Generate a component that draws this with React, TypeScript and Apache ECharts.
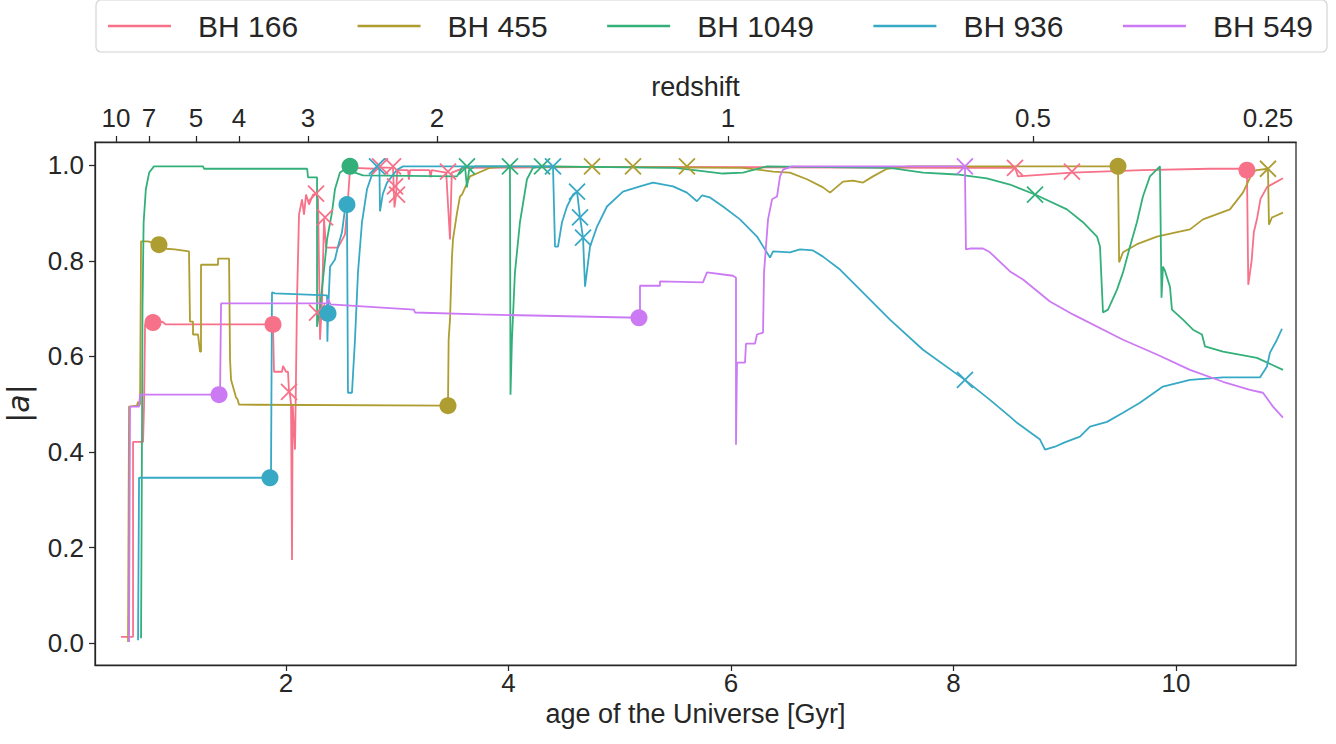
import React, { useEffect, useRef } from "react";
import * as echarts from "echarts";

const FONT = "'Liberation Sans', Arial, sans-serif";
const INK = "#262626";

const seriesNames = ["BH 166", "BH 455", "BH 1049", "BH 936", "BH 549"];
const seriesColors = ["#f77189", "#ae9d31", "#33b07a", "#38a9c5", "#cc7af4"];

// bottom axis ticks (age, Gyr)
const ageTicks = [2, 4, 6, 8, 10];
// top axis: redshift labels and the ages at which they sit
const redshiftLabels = ["10", "7", "5", "4", "3", "2", "1", "0.5", "0.25"];
const redshiftAges = [0.472, 0.769, 1.191, 1.578, 2.198, 3.357, 5.973, 8.715, 10.827];
const aTicks = [0, 0.2, 0.4, 0.6, 0.8, 1.0];

// [age (Gyr), |a|]
const bh166: number[][] = [
  [0.517, 0.013], [0.625, 0.013], [0.625, 0.421], [0.715, 0.421], [0.724, 0.5], [0.733, 0.667],
  [0.804, 0.671], [0.885, 0.673], [0.92, 0.667], [1.011, 0.667], [1.883, 0.667], [1.892, 0.568],
  [1.964, 0.568], [1.973, 0.58], [2.0, 0.568], [2.018, 0.568], [2.027, 0.526], [2.036, 0.52],
  [2.045, 0.5], [2.054, 0.174], [2.06, 0.5], [2.081, 0.405], [2.099, 0.719], [2.117, 0.897],
  [2.144, 0.929], [2.162, 0.897], [2.18, 0.939], [2.207, 0.918], [2.243, 0.939], [2.27, 0.941],
  [2.288, 0.929], [2.306, 0.635], [2.324, 0.719], [2.342, 0.887], [2.36, 0.828], [2.467, 0.828],
  [2.53, 0.855], [2.557, 0.929], [2.575, 0.991], [2.6, 0.995], [2.8, 0.993], [2.845, 0.996],
  [2.962, 0.995], [2.975, 0.912], [2.99, 0.94], [3.0, 0.99], [3.097, 0.99], [3.105, 0.97],
  [3.115, 0.99], [3.29, 0.99], [3.3, 0.975], [3.31, 0.99], [3.44, 0.985], [3.474, 0.845],
  [3.49, 0.985], [3.6, 0.995], [5.0, 0.997], [8.0, 0.995], [8.553, 0.995], [8.58, 0.977],
  [9.065, 0.985], [9.7, 0.99], [10.3, 0.993], [10.638, 0.993], [10.65, 0.75], [10.68, 0.8],
  [10.7, 0.86], [10.73, 0.89], [10.76, 0.93], [10.82, 0.955], [10.962, 0.973],
];
const bh455: number[][] = [
  [0.58, 0.002], [0.589, 0.495], [0.66, 0.497], [0.67, 0.505], [0.679, 0.497], [0.688, 0.5],
  [0.697, 0.841], [0.76, 0.841], [0.858, 0.834], [0.894, 0.826], [1.0, 0.824], [1.128, 0.82],
  [1.137, 0.673], [1.164, 0.673], [1.164, 0.646], [1.209, 0.646], [1.227, 0.61], [1.236, 0.61],
  [1.236, 0.792], [1.389, 0.792], [1.389, 0.805], [1.488, 0.805], [1.497, 0.593], [1.506, 0.551],
  [1.551, 0.514], [1.565, 0.51], [1.578, 0.499], [3.456, 0.497], [3.462, 0.635], [3.474, 0.677],
  [3.492, 0.809], [3.501, 0.845], [3.537, 0.9], [3.564, 0.935], [3.582, 0.939], [3.654, 0.977],
  [3.834, 0.995], [4.0, 0.998], [6.108, 0.995], [6.378, 0.987], [6.53, 0.985], [6.683, 0.971],
  [6.827, 0.954], [6.89, 0.943], [7.007, 0.966], [7.097, 0.968], [7.187, 0.964], [7.277, 0.977],
  [7.402, 0.993], [7.6, 0.998], [9.479, 0.998], [9.489, 0.797], [9.524, 0.818], [9.65, 0.835],
  [9.829, 0.851], [10.0, 0.86], [10.126, 0.866], [10.243, 0.887], [10.485, 0.908], [10.602, 0.943],
  [10.692, 0.987], [10.728, 0.99], [10.827, 0.993], [10.836, 0.876], [10.863, 0.891], [10.962, 0.901],
];
const bh1049: number[][] = [
  [0.697, 0.01], [0.703, 0.3], [0.71, 0.7], [0.72, 0.88], [0.74, 0.95], [0.77, 0.985],
  [0.813, 0.998], [1.254, 0.998], [1.263, 0.993], [2.19, 0.993], [2.198, 0.975], [2.279, 0.975],
  [2.279, 0.662], [2.306, 0.704], [2.35, 0.8], [2.369, 0.845], [2.413, 0.901], [2.44, 0.95],
  [2.485, 0.985], [2.575, 0.998], [2.62, 0.985], [2.692, 0.979], [3.537, 0.977], [3.582, 0.995],
  [3.609, 0.998], [3.627, 0.954], [3.645, 0.99], [3.7, 0.998], [4.013, 0.998], [4.018, 0.52],
  [4.031, 0.635], [4.058, 0.776], [4.103, 0.881], [4.166, 0.971], [4.22, 0.995], [4.301, 0.998],
  [5.5, 0.995], [5.631, 0.991], [5.928, 0.983], [6.108, 0.985], [6.324, 0.998], [7.429, 0.995],
  [7.726, 0.985], [8.031, 0.981], [8.3, 0.973], [8.508, 0.96], [8.733, 0.939], [9.02, 0.908],
  [9.164, 0.881], [9.29, 0.851], [9.317, 0.83], [9.344, 0.692], [9.389, 0.698], [9.47, 0.74],
  [9.524, 0.776], [9.587, 0.83], [9.649, 0.881], [9.703, 0.935], [9.766, 0.977], [9.856, 0.998],
  [9.87, 0.723], [9.883, 0.788], [9.9, 0.78], [9.946, 0.746], [9.964, 0.698], [10.063, 0.677],
  [10.153, 0.656], [10.234, 0.646], [10.261, 0.621], [10.423, 0.61], [10.728, 0.597], [10.962, 0.572],
];
const bh936: number[][] = [
  [0.67, 0.006], [0.679, 0.346], [1.865, 0.346], [1.874, 0.734], [1.9, 0.732], [2.369, 0.728],
  [2.372, 0.631], [2.378, 0.69], [2.396, 0.788], [2.44, 0.803], [2.467, 0.83], [2.503, 0.86],
  [2.53, 0.908], [2.548, 0.918], [2.557, 0.524], [2.593, 0.524], [2.62, 0.635], [2.647, 0.776],
  [2.683, 0.881], [2.728, 0.95], [2.782, 0.987], [2.818, 0.998], [2.84, 0.99], [2.845, 0.904],
  [2.87, 0.94], [2.908, 0.964], [2.998, 0.991], [3.052, 0.998], [4.4, 0.998], [4.418, 0.83],
  [4.445, 0.83], [4.481, 0.881], [4.526, 0.914], [4.58, 0.939], [4.616, 0.945], [4.643, 0.891],
  [4.67, 0.849], [4.688, 0.746], [4.733, 0.83], [4.796, 0.872], [4.885, 0.914], [5.029, 0.945],
  [5.182, 0.956], [5.299, 0.964], [5.479, 0.956], [5.604, 0.943], [5.694, 0.925], [5.739, 0.937],
  [5.811, 0.933], [5.928, 0.914], [6.081, 0.887], [6.234, 0.851], [6.351, 0.807], [6.378, 0.82],
  [6.53, 0.818], [6.62, 0.824], [6.737, 0.822], [6.827, 0.809], [6.98, 0.782], [7.133, 0.746],
  [7.429, 0.677], [7.726, 0.614], [8.103, 0.551], [8.328, 0.509], [8.508, 0.474], [8.571, 0.461],
  [8.778, 0.426], [8.823, 0.405], [8.912, 0.411], [9.0, 0.42], [9.137, 0.432], [9.227, 0.453],
  [9.38, 0.463], [9.524, 0.482], [9.676, 0.503], [9.883, 0.537], [10.126, 0.551], [10.423, 0.556],
  [10.755, 0.556], [10.818, 0.579], [10.845, 0.608], [10.908, 0.635], [10.953, 0.658],
];
const bh549: number[][] = [
  [0.589, 0.002], [0.598, 0.495], [0.679, 0.495], [0.688, 0.52], [1.398, 0.52], [1.407, 0.52],
  [1.416, 0.711], [2.369, 0.711], [2.378, 0.72], [2.4, 0.709], [3.15, 0.698], [3.16, 0.692],
  [3.744, 0.688], [5.173, 0.681], [5.182, 0.681], [5.182, 0.748], [5.362, 0.748], [5.362, 0.757],
  [5.748, 0.755], [5.784, 0.776], [6.018, 0.769], [6.045, 0.765], [6.045, 0.415], [6.054, 0.587],
  [6.126, 0.587], [6.135, 0.627], [6.216, 0.627], [6.234, 0.646], [6.288, 0.65], [6.297, 0.776],
  [6.333, 0.887], [6.369, 0.929], [6.414, 0.935], [6.441, 0.977], [6.468, 0.991], [6.55, 0.998],
  [8.103, 0.998], [8.112, 0.824], [8.148, 0.826], [8.265, 0.826], [8.328, 0.818], [8.508, 0.778],
  [8.625, 0.761], [8.867, 0.715], [9.074, 0.688], [9.524, 0.635], [9.829, 0.604], [10.126, 0.572],
  [10.423, 0.547], [10.665, 0.53], [10.782, 0.524], [10.872, 0.495], [10.962, 0.472],
];

// dots
const dots166 = [[0.804, 0.671], [1.883, 0.667], [10.638, 0.99]];
const dots455 = [[0.858, 0.834], [3.456, 0.497], [9.479, 0.998]];
const dots1049 = [[2.575, 0.998]];
const dots936 = [[1.856, 0.346], [2.378, 0.69], [2.548, 0.918]];
const dots549 = [[1.398, 0.52], [5.173, 0.681]];

// crosses
const cross166 = [
  [2.027, 0.526], [2.27, 0.941], [2.351, 0.891], [2.279, 0.692], [2.845, 0.998], [2.962, 0.998],
  [2.98, 0.956], [2.998, 0.939], [3.456, 0.987], [8.553, 0.995], [9.065, 0.987],
];
const cross455 = [[4.751, 0.998], [5.119, 0.998], [5.604, 0.998], [10.827, 0.993]];
const cross1049 = [[3.627, 0.998], [4.013, 0.998], [4.301, 0.998], [8.733, 0.939]];
const cross936 = [[2.818, 0.998], [4.4, 0.998], [4.616, 0.945], [4.643, 0.891], [4.67, 0.849], [8.103, 0.551]];
const cross549 = [[8.103, 0.998]];

const lines = [bh166, bh455, bh1049, bh936, bh549];
const dots = [dots166, dots455, dots1049, dots936, dots549];
const crosses = [cross166, cross455, cross1049, cross936, cross549];

const X_MIN = 0.283;
const X_MAX = 11.079;
const Y_MIN = -0.046;
const Y_MAX = 1.049;

export default function App() {
  const ref = useRef<HTMLDivElement>(null);
  useEffect(() => {
    document.body.style.margin = "0";
    const chart = echarts.init(ref.current!, null, { renderer: "svg" });
    const axisLine = { show: true, onZero: false, lineStyle: { color: INK, width: 1.25 } };
    const tick = (vals: number[]) => ({ show: true, inside: false, length: 6, customValues: vals, lineStyle: { color: INK, width: 1.25 } });
    const lineSeries = lines.map((d, i) => ({
      name: seriesNames[i],
      type: "line",
      data: d,
      symbol: "none",
      showSymbol: false,
      lineStyle: { color: seriesColors[i], width: 1.8 },
      itemStyle: { color: seriesColors[i] },
      z: 2,
    }));
    const dotSeries = dots.map((d, i) => ({
      name: seriesNames[i] + " start",
      type: "scatter",
      data: d,
      symbol: "circle",
      symbolSize: 17,
      itemStyle: { color: seriesColors[i], opacity: 1 },
      z: 4,
    }));
    const crossSeries = crosses.map((d, i) => ({
      name: seriesNames[i] + " merger",
      type: "scatter",
      data: d,
      symbol: "path://M0,0L10,10M10,0L0,10",
      symbolSize: 16,
      itemStyle: { color: "none", borderColor: seriesColors[i], borderWidth: 1.8, opacity: 1 },
      z: 3,
    }));
    chart.setOption({
      animation: false,
      backgroundColor: "#ffffff",
      textStyle: { fontFamily: FONT },
      legend: {
        data: seriesNames.map((n) => ({ name: n, icon: "rect" })),
        top: 0,
        left: 96,
        itemWidth: 63,
        itemHeight: 2.5,
        itemGap: 59.5,
        padding: [10, 14, 10, 12],
        borderColor: "#d4d4d4",
        borderWidth: 1.2,
        borderRadius: 5,
        textStyle: { fontSize: 30, fontFamily: FONT, color: INK, lineHeight: 32, padding: [0, 0, 0, 22] },
      },
      grid: {
        left: 95, top: 142, width: 1201, height: 523,
        show: true, borderColor: INK, borderWidth: 1.25, backgroundColor: "transparent",
        containLabel: false, outerBoundsMode: "none",
      },
      xAxis: [
        {
          type: "value",
          position: "bottom",
          min: X_MIN,
          max: X_MAX,
          name: "age of the Universe [Gyr]",
          nameLocation: "middle",
          nameGap: 31,
          nameTextStyle: { fontSize: 27, color: INK, fontFamily: FONT },
          axisLine,
          axisTick: tick(ageTicks),
          axisLabel: { customValues: ageTicks, fontSize: 26, color: INK, margin: 5, fontFamily: FONT, formatter: (v: number) => String(Math.round(v)) },
          splitLine: { show: false },
        },
        {
          type: "value",
          position: "top",
          min: X_MIN,
          max: X_MAX,
          name: "redshift",
          nameLocation: "middle",
          nameGap: 40,
          nameTextStyle: { fontSize: 27, color: INK, fontFamily: FONT },
          axisLine,
          axisTick: tick(redshiftAges),
          axisLabel: {
            customValues: redshiftAges,
            fontSize: 26,
            color: INK,
            margin: 11,
            fontFamily: FONT,
            formatter: (v: number) => {
              let best = 0;
              redshiftAges.forEach((a, k) => {
                if (Math.abs(a - v) < Math.abs(redshiftAges[best] - v)) best = k;
              });
              return redshiftLabels[best];
            },
          },
          splitLine: { show: false },
        },
      ],
      yAxis: {
        type: "value",
        min: Y_MIN,
        max: Y_MAX,
        name: "{n||}{i|a}{n||}",
        nameLocation: "middle",
        nameGap: 62,
        nameTextStyle: {
          fontSize: 30,
          color: INK,
          rich: {
            n: { fontSize: 30, color: INK, fontFamily: "'DejaVu Sans', sans-serif" },
            i: { fontSize: 30, color: INK, fontFamily: "'DejaVu Sans', sans-serif", fontStyle: "italic" },
          },
        },
        axisLine,
        axisTick: tick(aTicks),
        axisLabel: { customValues: aTicks, fontSize: 26, color: INK, margin: 11, fontFamily: FONT, formatter: (v: number) => v.toFixed(1) },
        splitLine: { show: false },
      },
      series: [...lineSeries, ...crossSeries, ...dotSeries],
    });
    return () => chart.dispose();
  }, []);
  return <div ref={ref} style={{ width: 1336, height: 744 }} />;
}
